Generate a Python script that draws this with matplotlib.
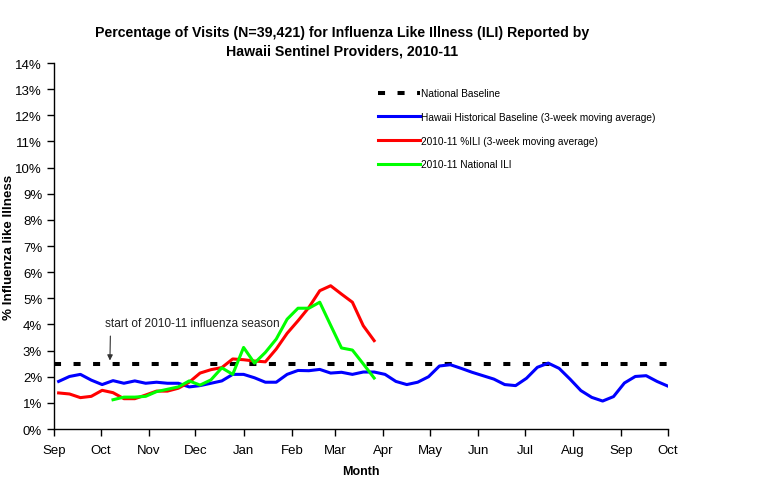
import numpy as np
import pandas as pd
import matplotlib
matplotlib.use("Agg")
import matplotlib.pyplot as plt
import matplotlib.dates as mdates
from matplotlib.ticker import FuncFormatter, MultipleLocator

plt.rcParams['font.family'] = ['Liberation Sans', 'DejaVu Sans']

# weekly data, weeks ending on Saturday
week_start = '2010-09-04'
n_weeks = 57

hawaii_baseline = [1.82, 2.01, 2.09, 1.87, 1.70, 1.85, 1.75, 1.84, 1.75, 1.79,
                   1.75, 1.75, 1.61, 1.66, 1.75, 1.84, 2.09, 2.09, 1.96, 1.79,
                   1.79, 2.09, 2.24, 2.23, 2.28, 2.14, 2.17, 2.09, 2.18, 2.18,
                   2.09, 1.82, 1.70, 1.79, 2.00, 2.41, 2.46, 2.32, 2.17, 2.04,
                   1.91, 1.70, 1.66, 1.94, 2.36, 2.52, 2.32, 1.91, 1.47, 1.21,
                   1.07, 1.24, 1.76, 2.01, 2.04, 1.82, 1.64]

hawaii_ili = [1.38, 1.34, 1.20, 1.25, 1.48, 1.39, 1.16, 1.16, 1.30, 1.45,
              1.45, 1.56, 1.79, 2.14, 2.27, 2.35, 2.68, 2.65, 2.60, 2.57,
              3.06, 3.66, 4.14, 4.65, 5.29, 5.48, 5.16, 4.85, 3.95, 3.38]

national_first_week = 5
national_ili = [1.12, 1.22, 1.22, 1.25, 1.43, 1.52, 1.61, 1.84, 1.68, 1.88,
                2.34, 2.09, 3.12, 2.52, 2.93, 3.44, 4.20, 4.62, 4.62, 4.85,
                3.97, 3.10, 3.02, 2.49, 1.95]

national_baseline = 2.5
season_start = '2010-10-07'

weeks = pd.date_range(week_start, periods=n_weeks, freq='7D')

fig = plt.figure(figsize=(7.59, 5.02), dpi=100)
ax = fig.add_axes([0.0711, 0.1434, 0.8089, 0.7291])

ax.axhline(national_baseline, color='black', lw=2.9, dashes=(1.75, 3.1),
           label='National Baseline')
ax.plot(weeks, hawaii_baseline, color='#0000ff', lw=2.2,
        label='Hawaii Historical Baseline (3-week moving average)')
ax.plot(weeks[:len(hawaii_ili)], hawaii_ili, color='#ff0000', lw=2.2,
        label='2010-11 %ILI (3-week moving average)')
nat_weeks = weeks[national_first_week:national_first_week + len(national_ili)]
ax.plot(nat_weeks, national_ili, color='#00ff00', lw=2.2,
        label='2010-11 National ILI')

ax.set_xlim(pd.Timestamp('2010-09-01'), pd.Timestamp('2011-10-01'))
ax.set_ylim(0, 14)
ax.yaxis.set_major_locator(MultipleLocator(1))
ax.yaxis.set_major_formatter(FuncFormatter(lambda v, p: f'{int(round(v))}%'))
ax.xaxis.set_major_locator(mdates.MonthLocator())
ax.xaxis.set_major_formatter(mdates.DateFormatter('%b'))
ax.tick_params(labelsize=9.5, length=5, width=1, direction='out', colors='black')
ax.tick_params(axis='x', pad=6)
for s in ['top', 'right']:
    ax.spines[s].set_visible(False)
for s in ['left', 'bottom']:
    ax.spines[s].set_linewidth(1)

ax.set_xlabel('Month', fontsize=9, fontweight='bold', labelpad=6)
ax.set_ylabel('% Influenza like Illness', fontsize=9.6, fontweight='bold')
ax.yaxis.set_label_coords(-0.063, 0.5)

ax.annotate('start of 2010-11 influenza season',
            xy=(pd.Timestamp(season_start), 2.62),
            xytext=(pd.Timestamp(season_start) - pd.Timedelta(days=3), 4.05),
            fontsize=8.6, color='#222222', ha='left', va='center',
            arrowprops=dict(arrowstyle='-|>', color='#333333', lw=0.8,
                            mutation_scale=8, shrinkA=3, shrinkB=0,
                            relpos=(0.03, 0)))

fig.text(0.4506, 0.916, 'Percentage of Visits (N=39,421) for Influenza Like Illness (ILI) Reported by\nHawaii Sentinel Providers, 2010-11',
         ha='center', va='center', fontsize=10.2, fontweight='bold',
         linespacing=1.4)

ax.legend(loc='upper left', bbox_to_anchor=(0.4985, 0.822), bbox_transform=fig.transFigure,
          frameon=False, handlelength=4.1, handletextpad=0.1,
          labelspacing=1.35, borderpad=0, borderaxespad=0,
          prop={'family': ['Liberation Sans Narrow', 'Liberation Sans'], 'size': 7.3})

fig.savefig('out.png', dpi=100)
